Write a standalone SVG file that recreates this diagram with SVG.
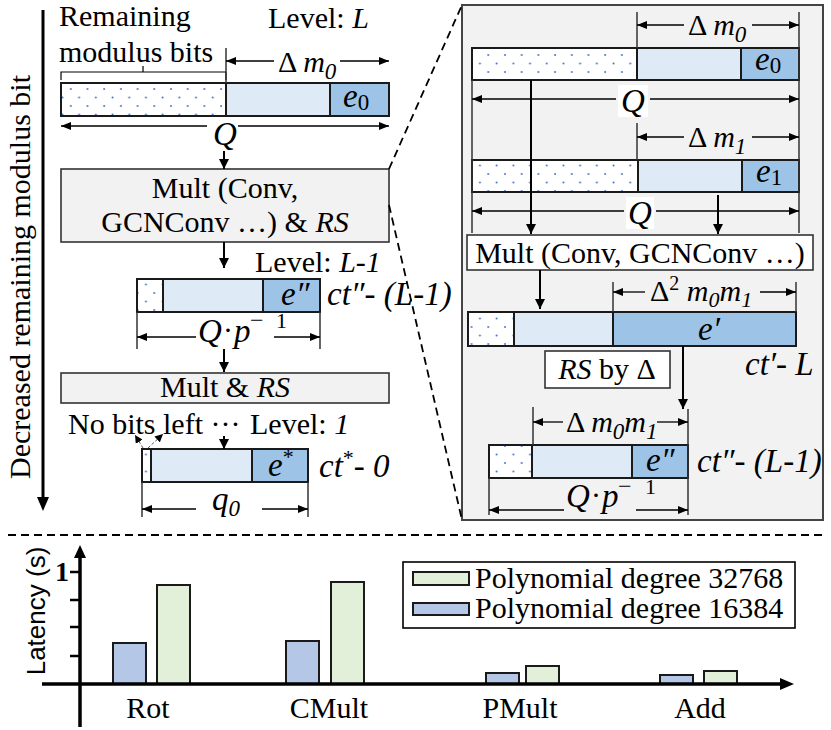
<svg xmlns="http://www.w3.org/2000/svg" width="831" height="730" viewBox="0 0 831 730" font-family="Liberation Serif, Noto Serif, DejaVu Serif, serif" font-size="30">
<defs>
<pattern id="dots" width="16.7" height="17" patternUnits="userSpaceOnUse">
<rect width="16.7" height="17" fill="#fff"/>
<circle cx="4" cy="4" r="1" fill="#4472c4"/>
<circle cx="12.35" cy="12.5" r="1" fill="#4472c4"/>
</pattern>
<marker id="ah" viewBox="0 0 10 8" refX="10" refY="4" markerWidth="10" markerHeight="8" markerUnits="userSpaceOnUse" orient="auto"><path d="M0,0 L10,4 L0,8 z" fill="#000"/></marker>
<marker id="ahb" viewBox="0 0 10 10" refX="10" refY="5" markerWidth="10" markerHeight="10" markerUnits="userSpaceOnUse" orient="auto"><path d="M0,0 L10,5 L0,10 z" fill="#000"/></marker>
<marker id="ahs" viewBox="0 0 8 8" refX="8" refY="4" markerWidth="8" markerHeight="8" markerUnits="userSpaceOnUse" orient="auto"><path d="M0,0 L8,4 L0,8 z" fill="#000"/></marker>
</defs>
<rect width="831" height="730" fill="#fff"/>

<g id="remaining-axis">
<line x1="43" y1="10" x2="43" y2="498" stroke="#000" stroke-width="3"/>
<path d="M37,497 L49,497 L43,511 z" fill="#000"/>
<text transform="translate(30,277) rotate(-90)" text-anchor="middle">Decreased remaining modulus bit</text>
</g>

<g id="panel">
<rect x="462" y="5" width="361" height="515" fill="#f2f2f2" stroke="#444" stroke-width="2"/>
</g>

<g id="levelL">
<text x="59" y="26">Remaining</text>
<text x="59" y="62">modulus bits</text>
<path d="M61,80 V72 H143 V66 M143,72 H226 V80" fill="none" stroke="#000" stroke-width="1.2"/>
<text x="268" y="28">Level: <tspan font-style="italic">L</tspan></text>
<text x="278" y="72">Δ <tspan font-style="italic">m</tspan><tspan font-style="italic" font-size="23" dy="7">0</tspan></text>
<g stroke="#1a1a1a" stroke-width="2">
<rect x="61" y="83" width="165" height="33" fill="url(#dots)"/>
<rect x="226" y="83" width="104" height="33" fill="#deebf7"/>
<rect x="330" y="83" width="59" height="33" fill="#9dc3e6"/>
</g>
<text x="343" y="107" font-size="33" font-style="italic">e<tspan font-size="23" font-style="normal" dy="3">0</tspan></text>
<text x="213" y="145" font-size="33" font-style="italic">Q</text>
</g>

<g id="mult1">
<rect x="61" y="169" width="328" height="73" fill="#f2f2f2" stroke="#333" stroke-width="1.6"/>
<text x="225" y="198" text-anchor="middle">Mult (Conv,</text>
<text x="225" y="232" text-anchor="middle">GCNConv …) &amp; <tspan font-style="italic">RS</tspan></text>
</g>

<g id="levelL1">
<text x="255" y="272">Level: <tspan font-style="italic">L-1</tspan></text>
<g stroke="#1a1a1a" stroke-width="2">
<rect x="137" y="279" width="26" height="33" fill="url(#dots)"/>
<rect x="163" y="279" width="100" height="33" fill="#deebf7"/>
<rect x="263" y="279" width="57" height="33" fill="#9dc3e6"/>
</g>
<text x="281" y="305" font-size="33" font-style="italic">e″</text>
<text x="327" y="305" font-size="33" font-style="italic">ct″- (L-1)</text>
<text x="198" y="342" font-size="33" font-style="italic">Q</text>
<text x="223" y="340">·</text>
<text x="234" y="342" font-size="33" font-style="italic">p</text>
<text x="250" y="328" font-size="24">−</text>
<text x="276" y="328" font-size="22">1</text>
</g>

<g id="mult2">
<rect x="61" y="373" width="328" height="30" fill="#f2f2f2" stroke="#333" stroke-width="1.6"/>
<text x="225" y="397" text-anchor="middle">Mult &amp; <tspan font-style="italic">RS</tspan></text>
</g>

<g id="level1">
<text x="68" y="434">No bits left ···</text>
<text x="250" y="434">Level: <tspan font-style="italic">1</tspan></text>
<g stroke="#1a1a1a" stroke-width="2">
<rect x="142" y="449" width="9" height="33" fill="url(#dots)"/>
<rect x="151" y="449" width="101" height="33" fill="#deebf7"/>
<rect x="252" y="449" width="56" height="33" fill="#9dc3e6"/>
</g>
<text x="268" y="476" font-size="33" font-style="italic">e<tspan font-size="22" font-style="normal" dy="-12">*</tspan></text>
<text x="319" y="477" font-size="33" font-style="italic">ct<tspan font-size="22" font-style="normal" dy="-12">*</tspan><tspan dy="12">- 0</tspan></text>
<text x="212" y="510" font-size="33" font-style="italic">q<tspan font-size="23" dy="6">0</tspan></text>
</g>

<g id="ctA">
<g stroke="#1a1a1a" stroke-width="2">
<rect x="472" y="48" width="165" height="32" fill="url(#dots)"/>
<rect x="637" y="48" width="104" height="32" fill="#deebf7"/>
<rect x="741" y="48" width="58" height="32" fill="#9dc3e6"/>
</g>
<text x="755" y="70" font-size="33" font-style="italic">e<tspan font-size="23" font-style="normal" dy="3">0</tspan></text>
<text x="688" y="35">Δ <tspan font-style="italic">m</tspan><tspan font-style="italic" font-size="23" dy="7">0</tspan></text>
<rect x="618" y="85" width="30" height="32" fill="#fff"/>
<text x="621" y="112" font-size="33" font-style="italic">Q</text>
</g>

<g id="ctB">
<g stroke="#1a1a1a" stroke-width="2">
<rect x="472" y="160" width="166" height="32" fill="url(#dots)"/>
<rect x="638" y="160" width="104" height="32" fill="#deebf7"/>
<rect x="742" y="160" width="57" height="32" fill="#9dc3e6"/>
</g>
<text x="756" y="182" font-size="33" font-style="italic">e<tspan font-size="23" font-style="normal" dy="3">1</tspan></text>
<text x="688" y="147">Δ <tspan font-style="italic">m</tspan><tspan font-style="italic" font-size="23" dy="7">1</tspan></text>
<rect x="626" y="197" width="28" height="32" fill="#fff"/>
<text x="628" y="224" font-size="33" font-style="italic">Q</text>
</g>

<g id="mult3">
<rect x="467" y="235" width="346" height="35" fill="#fff" stroke="#333" stroke-width="1.6"/>
<text x="640" y="263" text-anchor="middle">Mult (Conv, GCNConv …)</text>
</g>

<g id="ctC">
<text x="650" y="301">Δ<tspan font-size="20" dy="-11">2</tspan><tspan dy="11"> </tspan><tspan font-style="italic">m</tspan><tspan font-style="italic" font-size="22" dy="6">0</tspan><tspan font-style="italic" dy="-6">m</tspan><tspan font-style="italic" font-size="22" dy="6">1</tspan></text>
<g stroke="#1a1a1a" stroke-width="2">
<rect x="468" y="312" width="46" height="34" fill="url(#dots)"/>
<rect x="514" y="312" width="99" height="34" fill="#deebf7"/>
<rect x="613" y="312" width="183" height="34" fill="#9dc3e6"/>
</g>
<text x="698" y="340" font-size="33" font-style="italic">e′</text>
<text x="745" y="375" font-size="33" font-style="italic">ct′- L</text>
</g>

<g id="rs">
<rect x="545" y="351" width="125" height="37" fill="#fff" stroke="#333" stroke-width="1.6"/>
<text x="607" y="379" text-anchor="middle"><tspan font-style="italic">RS</tspan> by Δ</text>
</g>

<g id="ctD">
<text x="566" y="432">Δ <tspan font-style="italic">m</tspan><tspan font-style="italic" font-size="23" dy="7">0</tspan><tspan font-style="italic" dy="-7">m</tspan><tspan font-style="italic" font-size="23" dy="7">1</tspan></text>
<g stroke="#1a1a1a" stroke-width="2">
<rect x="489" y="445" width="43" height="33" fill="url(#dots)"/>
<rect x="532" y="445" width="100" height="33" fill="#deebf7"/>
<rect x="632" y="445" width="56" height="33" fill="#9dc3e6"/>
</g>
<text x="646" y="471" font-size="33" font-style="italic">e″</text>
<text x="697" y="472" font-size="33" font-style="italic">ct″- (L-1)</text>
<text x="566" y="507" font-size="33" font-style="italic">Q</text>
<text x="591" y="505">·</text>
<text x="602" y="507" font-size="33" font-style="italic">p</text>
<text x="618" y="494" font-size="24">−</text>
<text x="645" y="494" font-size="22">1</text>
</g>

<g id="connectors">
<g stroke="#333" stroke-width="1.5">
<line x1="226" y1="48" x2="226" y2="83"/>
<line x1="137" y1="312" x2="137" y2="349"/>
<line x1="320" y1="312" x2="320" y2="349"/>
<line x1="142" y1="482" x2="142" y2="517"/>
<line x1="308" y1="482" x2="308" y2="517"/>
<line x1="637" y1="12" x2="637" y2="48"/>
<line x1="799" y1="12" x2="799" y2="233"/>
<line x1="472" y1="80" x2="472" y2="233"/>
<line x1="637" y1="123" x2="637" y2="160"/>
<line x1="613" y1="282" x2="613" y2="312"/>
<line x1="796" y1="282" x2="796" y2="312"/>
<line x1="533" y1="407" x2="533" y2="445"/>
<line x1="688" y1="409" x2="688" y2="515"/>
<line x1="489" y1="478" x2="489" y2="515"/>
</g>
<g stroke="#000" stroke-width="1.3" fill="none" marker-end="url(#ah)">
<line x1="274" y1="61" x2="226" y2="61"/>
<line x1="340" y1="61" x2="389" y2="61"/>
<line x1="207" y1="126" x2="61" y2="126"/>
<line x1="238" y1="126" x2="389" y2="126"/>
<line x1="196" y1="337" x2="137" y2="337"/>
<line x1="274" y1="337" x2="320" y2="337"/>
<line x1="196" y1="509" x2="142" y2="509"/>
<line x1="262" y1="509" x2="308" y2="509"/>
<line x1="684" y1="25" x2="637" y2="25"/>
<line x1="752" y1="25" x2="799" y2="25"/>
<line x1="616" y1="99" x2="472" y2="99"/>
<line x1="650" y1="99" x2="799" y2="99"/>
<line x1="684" y1="137" x2="637" y2="137"/>
<line x1="752" y1="137" x2="799" y2="137"/>
<line x1="624" y1="211" x2="472" y2="211"/>
<line x1="656" y1="211" x2="799" y2="211"/>
<line x1="645" y1="292" x2="613" y2="292"/>
<line x1="760" y1="292" x2="796" y2="292"/>
<line x1="563" y1="422" x2="533" y2="422"/>
<line x1="657" y1="422" x2="688" y2="422"/>
<line x1="564" y1="510" x2="489" y2="510"/>
<line x1="636" y1="510" x2="688" y2="510"/>
</g>
<g stroke="#000" stroke-width="2" marker-end="url(#ahb)">
<line x1="224" y1="151" x2="224" y2="169"/>
<line x1="224" y1="242" x2="224" y2="268"/>
<line x1="224" y1="349" x2="224" y2="372"/>
<line x1="224" y1="436" x2="224" y2="449"/>
<line x1="531" y1="80" x2="531" y2="234"/>
<line x1="718" y1="195" x2="718" y2="234"/>
<line x1="540" y1="270" x2="540" y2="309"/>
<line x1="683" y1="346" x2="683" y2="409"/>
</g>
<g stroke="#555" stroke-width="1" stroke-dasharray="3 2" marker-end="url(#ahs)">
<line x1="143" y1="448" x2="135" y2="435"/>
<line x1="148" y1="448" x2="163" y2="434"/>
</g>
<g stroke="#000" stroke-width="1.8" stroke-dasharray="8 5" fill="none">
<line x1="389" y1="169" x2="462" y2="5"/>
<line x1="389" y1="205" x2="462" y2="520"/>
<line x1="8" y1="535" x2="822" y2="535"/>
</g>
</g>

<g id="chart">
<g stroke="#1a1a1a" stroke-width="2">
<rect x="113" y="643" width="33" height="41" fill="#b4c7e7"/>
<rect x="157" y="585" width="33" height="99" fill="#e2f0d9"/>
<rect x="286" y="641" width="33" height="43" fill="#b4c7e7"/>
<rect x="331" y="582" width="33" height="102" fill="#e2f0d9"/>
<rect x="486" y="673" width="33" height="11" fill="#b4c7e7"/>
<rect x="526" y="666" width="33" height="18" fill="#e2f0d9"/>
<rect x="660" y="675" width="33" height="9" fill="#b4c7e7"/>
<rect x="704" y="671" width="33" height="13" fill="#e2f0d9"/>
</g>
<line x1="80" y1="727" x2="80" y2="556" stroke="#000" stroke-width="3.5"/>
<path d="M74,558 L86,558 L80,545 z" fill="#000"/>
<line x1="42" y1="684" x2="782" y2="684" stroke="#000" stroke-width="3.5"/>
<path d="M780,678 L780,690 L794,684 z" fill="#000"/>
<g stroke="#000" stroke-width="2.5">
<line x1="70" y1="572" x2="80" y2="572"/>
<line x1="70" y1="600" x2="80" y2="600"/>
<line x1="70" y1="627" x2="80" y2="627"/>
<line x1="70" y1="656" x2="80" y2="656"/>
</g>
<text x="55" y="581" font-weight="bold" font-size="28">1</text>
<text font-family="Liberation Sans, sans-serif" transform="translate(45,611) rotate(-90)" text-anchor="middle" font-size="26">Latency (s)</text>
<text x="148" y="718" text-anchor="middle">Rot</text>
<text x="329" y="718" text-anchor="middle">CMult</text>
<text x="520" y="718" text-anchor="middle">PMult</text>
<text x="700" y="718" text-anchor="middle">Add</text>
</g>

<g id="legend">
<rect x="403" y="562" width="392" height="66" fill="#fff" stroke="#000" stroke-width="1.6"/>
<rect x="413" y="572" width="56" height="13" fill="#e2f0d9" stroke="#1a1a1a" stroke-width="2"/>
<rect x="413" y="603" width="56" height="12" fill="#b4c7e7" stroke="#1a1a1a" stroke-width="2"/>
<text x="475" y="588">Polynomial degree 32768</text>
<text x="475" y="618">Polynomial degree 16384</text>
</g>
</svg>
